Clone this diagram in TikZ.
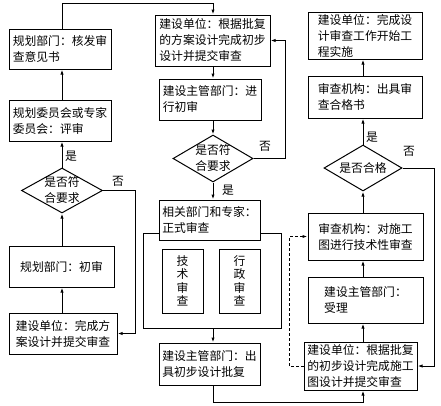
\documentclass[tikz,border=0pt]{standalone}
\usepackage{fontspec}
\setmainfont{Noto Sans CJK SC}
\usetikzlibrary{arrows.meta,shapes.geometric}
\begin{document}
\begin{tikzpicture}[x=1pt,y=-1pt,
  every node/.style={font=\fontsize{11.8pt}{16pt}\selectfont},
  box/.style={draw,line width=1pt,inner sep=0pt,align=left},
  dia/.style={draw,line width=1pt,diamond,inner sep=-5pt,align=center},
  vbox/.style={draw,line width=1pt,inner sep=0pt,align=center,font=\fontsize{11.8pt}{13.5pt}\selectfont},
  arr/.style={line width=1pt,-{Latex[length=5pt,width=3.2pt]}},
  lbl/.style={inner sep=0pt}]
\useasboundingbox (0,0) rectangle (441,405);
% left column
\node[box,minimum width=102,minimum height=40] (L1) at (60,49) {规划部门：核发审\\查意见书};
\node[box,minimum width=102,minimum height=41] (L2) at (60,120.5) {规划委员会或专家\\委员会：评审};
\node[dia,minimum width=81,minimum height=45] (L3) at (62,190.5) {是否符\\合要求};
\node[box,align=center,minimum width=105,minimum height=41] (L4) at (61.5,266.5) {规划部门：初审};
\node[box,minimum width=108,minimum height=41] (L5) at (63,333.5) {建设单位：完成方\\案设计并提交审查};
% middle column
\node[box,minimum width=115,minimum height=51] (M1) at (212.5,40.5) {建设单位：根据批复\\的方案设计完成初步\\设计并提交审查};
\node[box,minimum width=102,minimum height=41] (M2) at (210,99.5) {建设主管部门：进\\行初审};
\node[dia,minimum width=80,minimum height=47] (M3) at (213,158.5) {是否符\\合要求};
\node[draw,line width=1pt,inner sep=0pt,minimum width=138,minimum height=95] (frame) at (212,280.5) {};
\node[box,fill=white,minimum width=101,minimum height=40] (M4) at (209.5,220) {相关部门和专家：\\正式审查};
\node[vbox,minimum width=41,minimum height=64] (T1) at (182.5,281) {技\\术\\审\\查};
\node[vbox,minimum width=41,minimum height=64] (T2) at (239.5,281) {行\\政\\审\\查};
\node[box,minimum width=101,minimum height=42] (M5) at (209.5,364) {建设主管部门：出\\具初步设计批复};
% right column
\node[box,minimum width=114,minimum height=47] (R1) at (365,35.5) {建设单位：完成设\\计审查工作开始工\\程实施};
\node[box,minimum width=114,minimum height=42] (R2) at (365,97) {审查机构：出具审\\查合格书};
\node[dia,minimum width=78,minimum height=46] (R3) at (363,168) {是否合格};
\node[box,minimum width=115,minimum height=47] (R4) at (365.5,236.5) {审查机构：对施工\\图进行技术性审查};
\node[box,minimum width=115,minimum height=46] (R5a) at (365.5,300) {建设主管部门：\\受理};
\node[box,minimum width=113,minimum height=48] (R5) at (360.5,366) {建设单位：根据批复\\的初步设计完成施工\\图设计并提交审查};
% labels
\node[lbl] (yL) at (71,156) {是};
\node[lbl] (nL) at (118,181) {否};
\node[lbl] (nM) at (265,146) {否};
\node[lbl] (yM) at (228,190) {是};
\node[lbl] (yR) at (372,137) {是};
\node[lbl] (nR) at (409,151) {否};
% helper coordinates
\coordinate (cL) at (135,0);
\coordinate (cM) at (285,0);
\coordinate (cR) at (434,0);
\coordinate (cD) at (289,0);
\coordinate (cB) at (0,402);
% left connectors
\draw[arr] (L5.north -| L3) -- (L4.south -| L3);
\draw[arr] (L4.north -| L3) -- (L3.south);
\draw[arr] (L3.north) -- (L2.south -| L3);
\draw[arr] (L2.north -| L3) -- (L1.south -| L3);
\draw[arr] (L1.north -| L3) -- ++(0,-25) -| (M1.north -| M3);
\draw[arr] (L3.east) -- (L3.east -| cL) -- (L5.east -| cL) -- (L5.east);
% middle connectors
\draw[arr] (M1.south -| M3) -- (M2.north -| M3);
\draw[arr] (M2.south -| M3) -- (M3.north);
\draw[arr] (M3.south) -- (M4.north -| M3);
\draw[arr] (M3.east) -- (M3.east -| cM) -- (M1.east -| cM) -- (M1.east);
\draw[arr] (frame.south -| M3) -- (M5.north -| M3);
\draw[arr] (M5.south -| M3) -- (cB -| M3) -- (cB -| R3) -- (R5.south -| R3);
% right connectors
\draw[arr] (R5.north -| R3) -- (R5a.south -| R3);
\draw[arr] (R5a.north -| R3) -- (R4.south -| R3);
\draw[arr] (R4.north -| R3) -- (R3.south);
\draw[arr] (R3.north) -- (R2.south -| R3);
\draw[arr] (R2.north -| R3) -- (R1.south -| R3);
\draw[arr] (R3.east) -- (R3.east -| cR) -- (R5.east -| cR) -- (R5.east);
\draw[arr,dash pattern=on 3pt off 2pt] (R5.west) -- (R5.west -| cD) -- (R4.west -| cD) -- (R4.west);
\end{tikzpicture}
\end{document}
